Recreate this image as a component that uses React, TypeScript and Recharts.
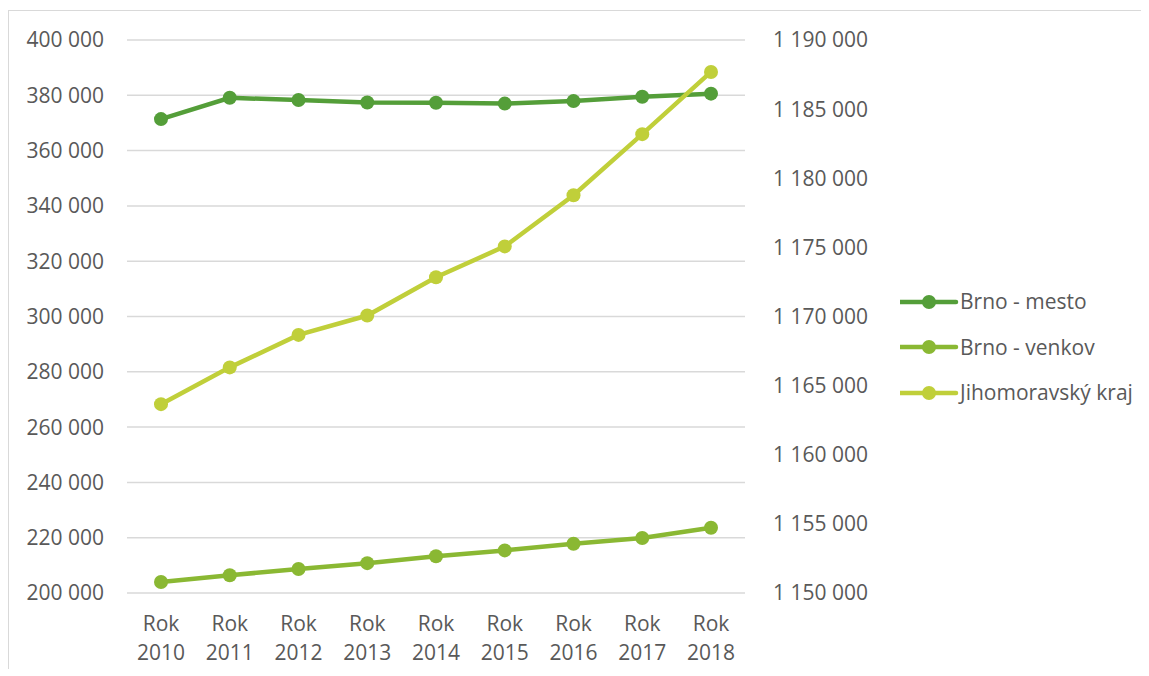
import React from "react";
import {
  LineChart,
  Line,
  XAxis,
  YAxis,
  CartesianGrid,
  Legend,
} from "recharts";

const years = ["2010", "2011", "2012", "2013", "2014", "2015", "2016", "2017", "2018"];
const brnoMesto = [371400, 379100, 378300, 377400, 377300, 377000, 377900, 379500, 380600];
const brnoVenkov = [204000, 206400, 208700, 210800, 213300, 215400, 217800, 219900, 223600];
const jihomoravsky = [1163660, 1166320, 1168670, 1170070, 1172840, 1175070, 1178770, 1183190, 1187690];

const leftTicks = [200000, 220000, 240000, 260000, 280000, 300000, 320000, 340000, 360000, 380000, 400000];
const rightTicks = [1150000, 1155000, 1160000, 1165000, 1170000, 1175000, 1180000, 1185000, 1190000];

const SERIES = [
  { key: "mesto", name: "Brno - mesto", color: "#549E39", axis: "left" },
  { key: "venkov", name: "Brno - venkov", color: "#8AB833", axis: "left" },
  { key: "kraj", name: "Jihomoravský kraj", color: "#C0CF3A", axis: "right" },
];

const data = years.map((y, i) => ({
  label: "Rok " + y,
  mesto: brnoMesto[i],
  venkov: brnoVenkov[i],
  kraj: jihomoravsky[i],
}));

const FONT = "'Open Sans', sans-serif";
const TEXT = "#595959";

// thousands separated by a space: 1 190 000
const fmt = (v: number) => String(v).replace(/\B(?=(\d{3})+(?!\d))/g, " ");

function YearTick({ x, y, payload }: any) {
  const [word, year] = String(payload.value).split(" ");
  return (
    <text x={x} y={y} textAnchor="middle" fill={TEXT} fontSize={21} fontFamily={FONT}>
      <tspan x={x} dy={36}>{word}</tspan>
      <tspan x={x} dy={29}>{year}</tspan>
    </text>
  );
}

function SeriesLegend() {
  return (
    <div style={{ fontFamily: FONT, fontSize: 21, color: TEXT }}>
      {SERIES.map((s) => (
        <div key={s.key} style={{ display: "flex", alignItems: "center", height: 45.5 }}>
          <svg width={60} height={20} style={{ display: "block" }}>
            <line x1={0} y1={10} x2={56} y2={10} stroke={s.color} strokeWidth={4.5} strokeLinecap="round" />
            <circle cx={29} cy={10} r={7} fill={s.color} />
          </svg>
          <span style={{ lineHeight: 1 }}>{s.name}</span>
        </div>
      ))}
    </div>
  );
}

export default function App() {
  return (
    <div
      style={{
        position: "relative",
        top: 2,
        width: 1140,
        height: 660,
        borderTop: "1px solid #d9d9d9",
        borderLeft: "1px solid #d9d9d9",
        background: "#fff",
      }}
    >
      <LineChart
        width={1140}
        height={659}
        data={data}
        margin={{ top: 29, right: 5, bottom: 7, left: 0 }}
        style={{ fontFamily: FONT }}
      >
        <CartesianGrid yAxisId="left" vertical={false} stroke="#d9d9d9" strokeWidth={1.5} />
        <XAxis
          dataKey="label"
          axisLine={false}
          tickLine={false}
          tickSize={0}
          height={70}
          interval={0}
          padding={{ left: 34, right: 34 }}
          tick={<YearTick />}
        />
        <YAxis
          yAxisId="left"
          width={118}
          domain={[200000, 400000]}
          ticks={leftTicks}
          tickFormatter={fmt}
          axisLine={false}
          tickLine={false}
          tickSize={0}
          tickMargin={23}
          tick={{ fill: TEXT, fontSize: 21 }}
        />
        <YAxis
          yAxisId="right"
          orientation="right"
          width={155}
          domain={[1150000, 1190000]}
          ticks={rightTicks}
          tickFormatter={fmt}
          axisLine={false}
          tickLine={false}
          tickSize={0}
          tickMargin={28}
          tick={{ fill: TEXT, fontSize: 21, textAnchor: "start" }}
        />
        <Legend
          layout="vertical"
          align="right"
          verticalAlign="middle"
          wrapperStyle={{ left: 891, top: 268, width: 244 }}
          content={<SeriesLegend />}
        />
        {SERIES.map((s) => (
          <Line
            key={s.key}
            yAxisId={s.axis}
            dataKey={s.key}
            name={s.name}
            stroke={s.color}
            strokeWidth={4.5}
            dot={{ r: 7, fill: s.color, stroke: s.color, strokeWidth: 0 }}
            activeDot={false}
            isAnimationActive={false}
          />
        ))}
      </LineChart>
    </div>
  );
}
